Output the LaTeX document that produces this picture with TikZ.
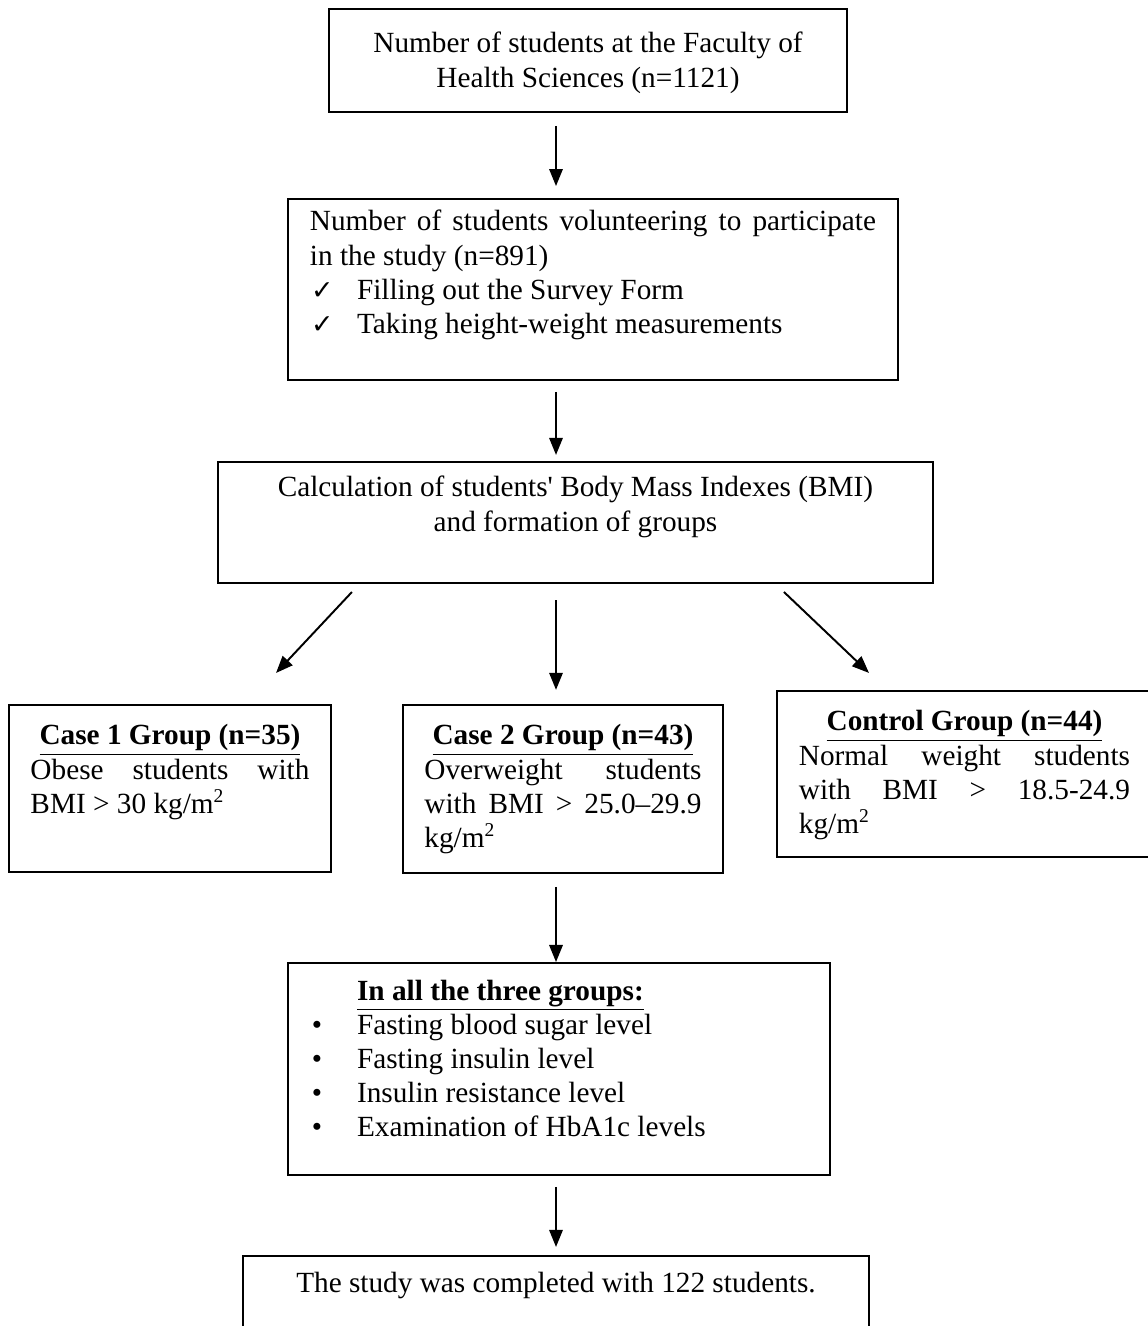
\documentclass[tikz,border=0pt]{standalone}
\usepackage{fontspec}
\setmainfont{Liberation Serif}
\newfontfamily\symf{DejaVu Sans}
\usetikzlibrary{arrows.meta}
\newcommand{\bxt}[5]{\begin{minipage}[c][#2][t]{#1}\fontsize{12}{14}\selectfont\parskip=0pt\parindent=0pt\leftskip=#3\rightskip=#3\relax\hyphenpenalty=10000\tolerance=10000\vspace*{#4}\strut #5\end{minipage}}
\newcommand{\ctitle}[1]{\makebox[\dimexpr\hsize-\leftskip-\rightskip\relax]{\underline{\textbf{#1}}}\par}
\newcommand{\chk}{\makebox[19.3pt][l]{\hspace{0.5pt}{\symf\fontsize{11}{11}\selectfont ✓}}}
\newcommand{\bul}{\makebox[23.4pt][l]{\hspace{4.9pt}\textbullet}}
\tikzset{
  box/.style={draw, line width=0.8pt, inner sep=0pt, outer sep=0pt},
  arr/.style={line width=0.8pt, -{Triangle[length=7pt,width=5.5pt]}}
}
\begin{document}
\begin{tikzpicture}[x=0.41pt,y=-0.41pt]
\useasboundingbox (0,0) rectangle (1147,1326);
\node[box] (b1) at (588,60.5) {\bxt{212.4pt}{42.2pt}{0pt}{8.2pt}{\centering Number of students at the Faculty of\\ Health Sciences (n=1121)}};
\node[box] (b2) at (593,289.5) {\bxt{250.1pt}{74.2pt}{9pt}{3.3pt}{Number of students volunteering to participate\linebreak in the study (n=891)\par
\chk Filling out the Survey Form\par
\chk Taking height-weight measurements}};
\node[box] (b3) at (575.5,522.5) {\bxt{293.2pt}{49.6pt}{0pt}{4.5pt}{\centering Calculation of students\textquotesingle{} Body Mass Indexes (BMI)\\ and formation of groups}};
\node[box] (c1) at (170,788.5) {\bxt{132pt}{68.5pt}{8.8pt}{6.6pt}{\ctitle{Case 1 Group (n=35)}
Obese students with\linebreak BMI > 30 kg/m\textsuperscript{2}}};
\node[box] (c2) at (563,789) {\bxt{131.2pt}{68.9pt}{8.8pt}{6.6pt}{\ctitle{Case 2 Group (n=43)}
Overweight students\linebreak with BMI > 25.0–29.9\linebreak kg/m\textsuperscript{2}}};
\node[box] (c3) at (964.5,774) {\bxt{153.75pt}{68.1pt}{9pt}{6.6pt}{\ctitle{Control Group (n=44)}
Normal weight students\linebreak with BMI > 18.5-24.9\linebreak kg/m\textsuperscript{2}}};
\node[box] (b7) at (559,1069) {\bxt{222.2pt}{86.9pt}{4.9pt}{5.4pt}{\hspace*{23.4pt}\underline{\textbf{In all the three groups:}}\par
\bul Fasting blood sugar level\par
\bul Fasting insulin level\par
\bul Insulin resistance level\par
\bul Examination of HbA1c levels}};
\node[box] (b8) at (556,1300.5) {\bxt{256.7pt}{36.5pt}{0pt}{5pt}{\centering The study was completed with 122 students.}};
\coordinate (ax) at (556,0);
\draw[arr, shorten <=5.7pt, shorten >=5.3pt] (b1.south -| ax) -- (b2.north -| ax);
\draw[arr, shorten <=4.9pt, shorten >=2.9pt] (b2.south -| ax) -- (b3.north -| ax);
\draw[arr] ([shift={(134,9)}]b3.south west) -- ([shift={(267,-32)}]c1.north west);
\draw[arr, shorten <=7pt, shorten >=6.2pt] (b3.south -| ax) -- (c2.north -| ax);
\draw[arr] ([shift={(566,9)}]b3.south west) -- ([shift={(92,-18)}]c3.north west);
\draw[arr, shorten <=5.7pt, shorten >=0.4pt] (c2.south -| ax) -- (b7.north -| ax);
\draw[arr, shorten <=4.9pt, shorten >=3.7pt] (b7.south -| ax) -- (b8.north -| ax);
\end{tikzpicture}
\end{document}
